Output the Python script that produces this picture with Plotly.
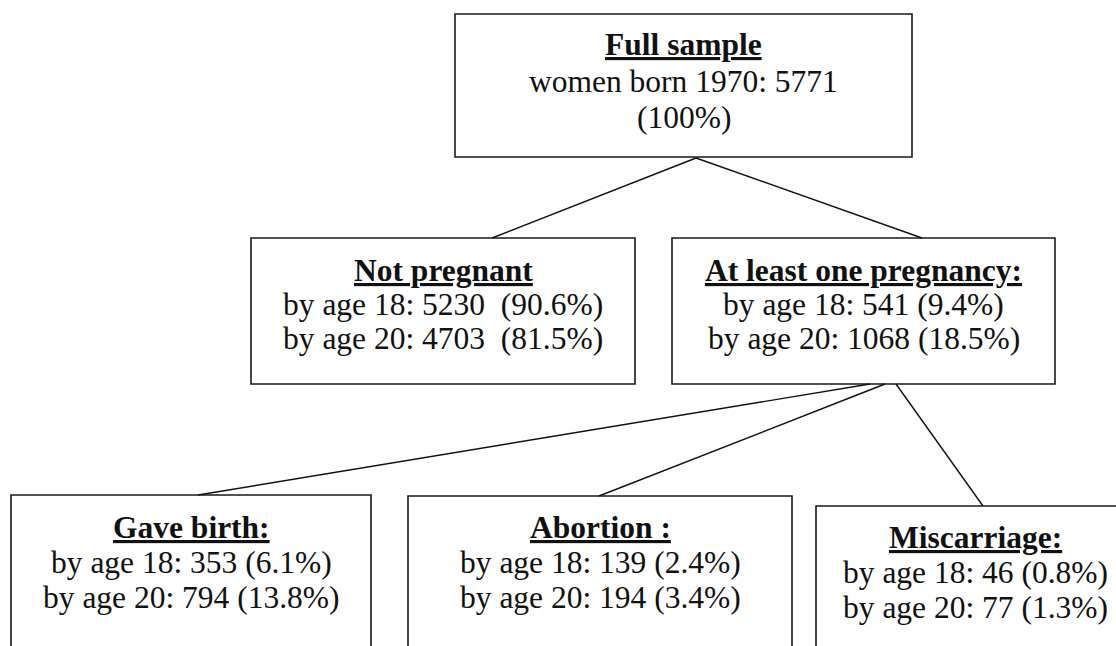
import plotly.graph_objects as go

# ---- data ----
node_titles = ["Full sample", "Not pregnant", "At least one pregnancy:",
               "Gave birth:", "Abortion :", "Miscarriage:"]
full_sample_n = 5771
full_sample_pct = 100
n_age18 = [5230, 541, 353, 139, 46]
pct_age18 = [90.6, 9.4, 6.1, 2.4, 0.8]
n_age20 = [4703, 1068, 794, 194, 77]
pct_age20 = [81.5, 18.5, 13.8, 3.4, 1.3]
gap_spaces = [2, 1, 1, 1, 1]  # spaces between count and percentage

# ---- layout geometry (pixel coordinates of the 1116x646 canvas) ----
W, H = 1116, 646
boxes = [  # x0, x1, y0, y1
    (455, 912, 14, 157),
    (251, 635, 238, 384),
    (672, 1055, 238, 384),
    (11, 371, 495, 700),
    (408, 792, 496, 700),
    (816, 1134, 506, 700),
]
line_y = [  # centres of title / line1 / line2
    (44, 81, 117),
    (270, 304, 338),
    (270, 304, 338),
    (527, 562, 597),
    (527, 562, 597),
    (537, 572, 607),
]
text_cx = [683.5, 443, 863.5, 191, 600, 975]
edges = [  # (x_from, y_from, x_to, y_to)
    (696, 158, 492, 238),
    (696, 158, 922, 238),
    (870, 384, 198, 495),
    (885, 384, 599, 496),
    (896, 384, 983, 506),
]

FONT = "Liberation Serif, Times New Roman, serif"
FS = 31.5
INK = "#111111"

fig = go.Figure()
fig.add_trace(go.Scatter(x=[0, W], y=[0, H], mode="markers",
                         marker=dict(opacity=0), hoverinfo="skip", showlegend=False))

shapes = []
for (x0, x1, y0, y1) in boxes:
    shapes.append(dict(type="rect", xref="x", yref="y", x0=x0, x1=x1, y0=y0, y1=y1,
                       line=dict(color="#1a1a1a", width=1.6), fillcolor="rgba(0,0,0,0)",
                       layer="above"))
for (xa, ya, xb, yb) in edges:
    shapes.append(dict(type="line", xref="x", yref="y", x0=xa, y0=ya, x1=xb, y1=yb,
                       line=dict(color="#111111", width=1.4)))

ann = []
def add_text(txt, x, y):
    ann.append(dict(x=x, y=y, xref="x", yref="y", text=txt, showarrow=False,
                    xanchor="center", yanchor="middle",
                    font=dict(family=FONT, size=FS, color=INK)))

# top node
add_text("<b><u>" + node_titles[0] + "</u></b>", text_cx[0], line_y[0][0])
add_text(f"women born 1970: {full_sample_n}", text_cx[0], line_y[0][1])
add_text(f"({full_sample_pct}%)", text_cx[0], line_y[0][2])

for i in range(5):
    k = i + 1
    sp = " " + "\u00a0" * (gap_spaces[i] - 1)
    add_text("<b><u>" + node_titles[k] + "</u></b>", text_cx[k], line_y[k][0])
    add_text(f"by age 18: {n_age18[i]}{sp}({pct_age18[i]}%)", text_cx[k], line_y[k][1])
    add_text(f"by age 20: {n_age20[i]}{sp}({pct_age20[i]}%)", text_cx[k], line_y[k][2])

fig.update_layout(
    width=W, height=H, autosize=False,
    margin=dict(l=0, r=0, t=0, b=0),
    paper_bgcolor="white", plot_bgcolor="white",
    xaxis=dict(range=[0, W], visible=False, fixedrange=True),
    yaxis=dict(range=[H, 0], visible=False, fixedrange=True),
    shapes=shapes, annotations=ann, showlegend=False,
)

fig.write_html("out.html", config={"displayModeBar": False},
               post_script="document.body.style.margin='0';")
